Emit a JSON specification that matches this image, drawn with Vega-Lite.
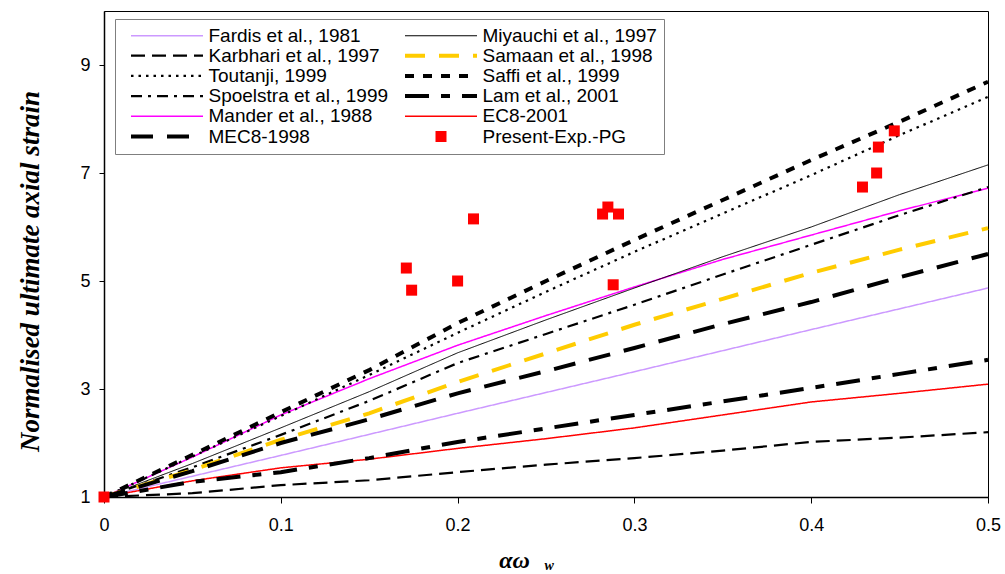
{
  "$schema": "https://vega.github.io/schema/vega-lite/v6.json",
  "width": 884,
  "height": 486,
  "autosize": "none",
  "padding": {"left": 104, "top": 11, "right": 17, "bottom": 77},
  "background": "white",
  "config": {
    "view": {"stroke": "black", "strokeWidth": 1},
    "axis": {
      "grid": false,
      "domainColor": "black",
      "domainWidth": 1.5,
      "tickColor": "black",
      "tickWidth": 1,
      "labelColor": "black",
      "labelFont": "Liberation Sans",
      "labelFontSize": 18,
      "titleFont": "Liberation Serif",
      "titleFontStyle": "italic",
      "titleFontWeight": "bold",
      "titleColor": "black"
    }
  },
  "datasets": {
    "curves": [
      {"series": "Fardis et al., 1981", "x": 0, "y": 1},
      {"series": "Fardis et al., 1981", "x": 0.1, "y": 1.77},
      {"series": "Fardis et al., 1981", "x": 0.2, "y": 2.55},
      {"series": "Fardis et al., 1981", "x": 0.3, "y": 3.32},
      {"series": "Fardis et al., 1981", "x": 0.4, "y": 4.1},
      {"series": "Fardis et al., 1981", "x": 0.5, "y": 4.87},

      {"series": "Miyauchi et al., 1997", "x": 0, "y": 1},
      {"series": "Miyauchi et al., 1997", "x": 0.05, "y": 1.62},
      {"series": "Miyauchi et al., 1997", "x": 0.1, "y": 2.28},
      {"series": "Miyauchi et al., 1997", "x": 0.15, "y": 2.95},
      {"series": "Miyauchi et al., 1997", "x": 0.2, "y": 3.67},
      {"series": "Miyauchi et al., 1997", "x": 0.25, "y": 4.28},
      {"series": "Miyauchi et al., 1997", "x": 0.3, "y": 4.87},
      {"series": "Miyauchi et al., 1997", "x": 0.35, "y": 5.45},
      {"series": "Miyauchi et al., 1997", "x": 0.4, "y": 6.0},
      {"series": "Miyauchi et al., 1997", "x": 0.45, "y": 6.6},
      {"series": "Miyauchi et al., 1997", "x": 0.5, "y": 7.15},

      {"series": "Karbhari et al., 1997", "x": 0, "y": 1},
      {"series": "Karbhari et al., 1997", "x": 0.05, "y": 1.07},
      {"series": "Karbhari et al., 1997", "x": 0.1, "y": 1.22},
      {"series": "Karbhari et al., 1997", "x": 0.15, "y": 1.31},
      {"series": "Karbhari et al., 1997", "x": 0.2, "y": 1.46},
      {"series": "Karbhari et al., 1997", "x": 0.25, "y": 1.6},
      {"series": "Karbhari et al., 1997", "x": 0.3, "y": 1.72},
      {"series": "Karbhari et al., 1997", "x": 0.35, "y": 1.86},
      {"series": "Karbhari et al., 1997", "x": 0.4, "y": 2.02},
      {"series": "Karbhari et al., 1997", "x": 0.45, "y": 2.1},
      {"series": "Karbhari et al., 1997", "x": 0.5, "y": 2.2},

      {"series": "Samaan et al., 1998", "x": 0, "y": 1},
      {"series": "Samaan et al., 1998", "x": 0.05, "y": 1.5},
      {"series": "Samaan et al., 1998", "x": 0.1, "y": 2.06},
      {"series": "Samaan et al., 1998", "x": 0.15, "y": 2.55},
      {"series": "Samaan et al., 1998", "x": 0.2, "y": 3.13},
      {"series": "Samaan et al., 1998", "x": 0.25, "y": 3.66},
      {"series": "Samaan et al., 1998", "x": 0.3, "y": 4.19},
      {"series": "Samaan et al., 1998", "x": 0.35, "y": 4.67},
      {"series": "Samaan et al., 1998", "x": 0.4, "y": 5.15},
      {"series": "Samaan et al., 1998", "x": 0.45, "y": 5.58},
      {"series": "Samaan et al., 1998", "x": 0.5, "y": 5.98},

      {"series": "Toutanji, 1999", "x": 0, "y": 1},
      {"series": "Toutanji, 1999", "x": 0.05, "y": 1.75},
      {"series": "Toutanji, 1999", "x": 0.1, "y": 2.5},
      {"series": "Toutanji, 1999", "x": 0.15, "y": 3.26},
      {"series": "Toutanji, 1999", "x": 0.2, "y": 4.04},
      {"series": "Toutanji, 1999", "x": 0.25, "y": 4.8},
      {"series": "Toutanji, 1999", "x": 0.3, "y": 5.54},
      {"series": "Toutanji, 1999", "x": 0.35, "y": 6.25},
      {"series": "Toutanji, 1999", "x": 0.4, "y": 6.96},
      {"series": "Toutanji, 1999", "x": 0.45, "y": 7.7},
      {"series": "Toutanji, 1999", "x": 0.5, "y": 8.41},

      {"series": "Saffi et al., 1999", "x": 0, "y": 1},
      {"series": "Saffi et al., 1999", "x": 0.05, "y": 1.78},
      {"series": "Saffi et al., 1999", "x": 0.1, "y": 2.57},
      {"series": "Saffi et al., 1999", "x": 0.15, "y": 3.35},
      {"series": "Saffi et al., 1999", "x": 0.2, "y": 4.22},
      {"series": "Saffi et al., 1999", "x": 0.25, "y": 5.0},
      {"series": "Saffi et al., 1999", "x": 0.3, "y": 5.76},
      {"series": "Saffi et al., 1999", "x": 0.35, "y": 6.5},
      {"series": "Saffi et al., 1999", "x": 0.4, "y": 7.24},
      {"series": "Saffi et al., 1999", "x": 0.45, "y": 7.95},
      {"series": "Saffi et al., 1999", "x": 0.5, "y": 8.69},

      {"series": "Spoelstra et al., 1999", "x": 0, "y": 1},
      {"series": "Spoelstra et al., 1999", "x": 0.05, "y": 1.55},
      {"series": "Spoelstra et al., 1999", "x": 0.1, "y": 2.15},
      {"series": "Spoelstra et al., 1999", "x": 0.15, "y": 2.78},
      {"series": "Spoelstra et al., 1999", "x": 0.2, "y": 3.48},
      {"series": "Spoelstra et al., 1999", "x": 0.25, "y": 4.02},
      {"series": "Spoelstra et al., 1999", "x": 0.3, "y": 4.56},
      {"series": "Spoelstra et al., 1999", "x": 0.35, "y": 5.12},
      {"series": "Spoelstra et al., 1999", "x": 0.4, "y": 5.67},
      {"series": "Spoelstra et al., 1999", "x": 0.45, "y": 6.22},
      {"series": "Spoelstra et al., 1999", "x": 0.5, "y": 6.74},

      {"series": "Lam et al., 2001", "x": 0, "y": 1},
      {"series": "Lam et al., 2001", "x": 0.05, "y": 1.28},
      {"series": "Lam et al., 2001", "x": 0.1, "y": 1.46},
      {"series": "Lam et al., 2001", "x": 0.15, "y": 1.72},
      {"series": "Lam et al., 2001", "x": 0.2, "y": 2.02},
      {"series": "Lam et al., 2001", "x": 0.25, "y": 2.27},
      {"series": "Lam et al., 2001", "x": 0.3, "y": 2.52},
      {"series": "Lam et al., 2001", "x": 0.35, "y": 2.77},
      {"series": "Lam et al., 2001", "x": 0.4, "y": 3.02},
      {"series": "Lam et al., 2001", "x": 0.45, "y": 3.28},
      {"series": "Lam et al., 2001", "x": 0.5, "y": 3.54},

      {"series": "Mander et al., 1988", "x": 0, "y": 1},
      {"series": "Mander et al., 1988", "x": 0.05, "y": 1.74},
      {"series": "Mander et al., 1988", "x": 0.1, "y": 2.52},
      {"series": "Mander et al., 1988", "x": 0.15, "y": 3.19},
      {"series": "Mander et al., 1988", "x": 0.2, "y": 3.81},
      {"series": "Mander et al., 1988", "x": 0.25, "y": 4.36},
      {"series": "Mander et al., 1988", "x": 0.3, "y": 4.89},
      {"series": "Mander et al., 1988", "x": 0.35, "y": 5.4},
      {"series": "Mander et al., 1988", "x": 0.4, "y": 5.85},
      {"series": "Mander et al., 1988", "x": 0.45, "y": 6.3},
      {"series": "Mander et al., 1988", "x": 0.5, "y": 6.72},

      {"series": "EC8-2001", "x": 0, "y": 1},
      {"series": "EC8-2001", "x": 0.05, "y": 1.3},
      {"series": "EC8-2001", "x": 0.1, "y": 1.54},
      {"series": "EC8-2001", "x": 0.15, "y": 1.7},
      {"series": "EC8-2001", "x": 0.2, "y": 1.9},
      {"series": "EC8-2001", "x": 0.25, "y": 2.08},
      {"series": "EC8-2001", "x": 0.3, "y": 2.28},
      {"series": "EC8-2001", "x": 0.35, "y": 2.52},
      {"series": "EC8-2001", "x": 0.4, "y": 2.76},
      {"series": "EC8-2001", "x": 0.45, "y": 2.92},
      {"series": "EC8-2001", "x": 0.5, "y": 3.09},

      {"series": "MEC8-1998", "x": 0, "y": 1},
      {"series": "MEC8-1998", "x": 0.05, "y": 1.48},
      {"series": "MEC8-1998", "x": 0.1, "y": 2.0},
      {"series": "MEC8-1998", "x": 0.15, "y": 2.44},
      {"series": "MEC8-1998", "x": 0.2, "y": 2.92},
      {"series": "MEC8-1998", "x": 0.25, "y": 3.33},
      {"series": "MEC8-1998", "x": 0.3, "y": 3.76},
      {"series": "MEC8-1998", "x": 0.35, "y": 4.2},
      {"series": "MEC8-1998", "x": 0.4, "y": 4.61},
      {"series": "MEC8-1998", "x": 0.45, "y": 5.07},
      {"series": "MEC8-1998", "x": 0.5, "y": 5.5}
    ],
    "tests": [
      {"series": "Present-Exp.-PG", "x": 0, "y": 1},
      {"series": "Present-Exp.-PG", "x": 0.171, "y": 5.24},
      {"series": "Present-Exp.-PG", "x": 0.174, "y": 4.83},
      {"series": "Present-Exp.-PG", "x": 0.2, "y": 5.0},
      {"series": "Present-Exp.-PG", "x": 0.209, "y": 6.15},
      {"series": "Present-Exp.-PG", "x": 0.282, "y": 6.24},
      {"series": "Present-Exp.-PG", "x": 0.285, "y": 6.37},
      {"series": "Present-Exp.-PG", "x": 0.291, "y": 6.24},
      {"series": "Present-Exp.-PG", "x": 0.288, "y": 4.93},
      {"series": "Present-Exp.-PG", "x": 0.429, "y": 6.74},
      {"series": "Present-Exp.-PG", "x": 0.437, "y": 7.0},
      {"series": "Present-Exp.-PG", "x": 0.438, "y": 7.48},
      {"series": "Present-Exp.-PG", "x": 0.447, "y": 7.78}
    ],
    "subscript": [{"label": "w", "x": 0.2506, "y": 1}]
  },
  "encoding": {
    "x": {
      "field": "x",
      "type": "quantitative",
      "scale": {"domain": [0, 0.5], "nice": false, "zero": false},
      "axis": {
        "values": [0, 0.1, 0.2, 0.3, 0.4, 0.5],
        "format": "~g",
        "tickSize": 6,
        "labelPadding": 13,
        "labelFlush": false,
        "title": "αω",
        "titleFontSize": 24,
        "titleX": 410,
        "titleY": 63,
        "titleBaseline": "middle",
        "titleAlign": "center"
      }
    },
    "y": {
      "field": "y",
      "type": "quantitative",
      "scale": {"domain": [1, 10], "nice": false, "zero": false},
      "axis": {
        "values": [1, 3, 5, 7, 9],
        "tickSize": 5,
        "labelPadding": 9,
        "labelFlush": false,
        "title": "Normalised ultimate axial strain",
        "titleFontSize": 27,
        "titleAngle": -90,
        "titleX": -74,
        "titleY": 260,
        "titleAlign": "center",
        "titleBaseline": "middle"
      }
    }
  },
  "layer": [
    {
      "data": {"name": "curves"},
      "transform": [{"filter": {"field": "series", "oneOf": ["Fardis et al., 1981", "Mander et al., 1988", "EC8-2001"]}}],
      "mark": {"type": "line", "strokeWidth": 1.5},
      "encoding": {
        "color": {
          "field": "series",
          "type": "nominal",
          "scale": {
            "domain": [
              "Fardis et al., 1981", "Karbhari et al., 1997", "Toutanji, 1999",
              "Spoelstra et al., 1999", "Mander et al., 1988", "MEC8-1998",
              "Miyauchi et al., 1997", "Samaan et al., 1998", "Saffi et al., 1999",
              "Lam et al., 2001", "EC8-2001", "Present-Exp.-PG"
            ],
            "range": [
              "#cc99ff", "#000000", "#000000",
              "#000000", "#ff00ff", "#000000",
              "#000000", "#ffcc00", "#000000",
              "#000000", "#ff0000", "#ff0000"
            ]
          },
          "legend": {
            "title": null,
            "orient": "none",
            "legendX": 11,
            "legendY": 8,
            "columns": 2,
            "columnPadding": 7,
            "rowPadding": 0.2,
            "padding": 7,
            "symbolType": "stroke",
            "symbolSize": 5184,
            "symbolOffset": 35.5,
            "symbolStrokeWidth": 2,
            "labelOffset": 32,
            "labelFont": "Liberation Sans",
            "labelFontSize": 19,
            "labelColor": "black",
            "labelLimit": 400,
            "strokeColor": "#7f7f7f",
            "fillColor": "white",
            "encode": {
              "symbols": {
                "update": {
                  "shape": {"signal": "datum.value === 'Present-Exp.-PG' ? 'square' : 'stroke'"},
                  "size": {"signal": "datum.value === 'Present-Exp.-PG' ? 121 : 5184"},
                  "fill": {"signal": "datum.value === 'Present-Exp.-PG' ? '#ff0000' : 'transparent'"},
                  "stroke": {"scale": "color", "field": "value"},
                  "strokeOpacity": {"signal": "datum.value === 'Present-Exp.-PG' ? 0 : 1"},
                  "strokeWidth": {"signal": "datum.value === 'Miyauchi et al., 1997' ? 1 : indexof(['Samaan et al., 1998', 'Saffi et al., 1999', 'Lam et al., 2001', 'MEC8-1998'], datum.value) >= 0 ? 4 : indexof(['Karbhari et al., 1997', 'Toutanji, 1999', 'Spoelstra et al., 1999'], datum.value) >= 0 ? 2.2 : 1.5"}
                }
              }
            }
          }
        },
        "strokeDash": {
          "field": "series",
          "type": "nominal",
          "scale": {
            "domain": [
              "Fardis et al., 1981", "Karbhari et al., 1997", "Toutanji, 1999",
              "Spoelstra et al., 1999", "Mander et al., 1988", "MEC8-1998",
              "Miyauchi et al., 1997", "Samaan et al., 1998", "Saffi et al., 1999",
              "Lam et al., 2001", "EC8-2001", "Present-Exp.-PG"
            ],
            "range": [
              [1, 0], [14, 7], [2.5, 5],
              [11, 6, 3, 6], [1, 0], [22, 14],
              [1, 0], [20, 14], [9, 9],
              [24, 12, 9, 12], [1, 0], [1, 0]
            ]
          },
          "legend": null
        }
      }
    },
    {
      "data": {"name": "curves"},
      "transform": [{"filter": {"field": "series", "oneOf": ["Miyauchi et al., 1997"]}}],
      "mark": {"type": "line", "strokeWidth": 1},
      "encoding": {
        "color": {"field": "series", "type": "nominal"},
        "strokeDash": {"field": "series", "type": "nominal"}
      }
    },
    {
      "data": {"name": "curves"},
      "transform": [{"filter": {"field": "series", "oneOf": ["Karbhari et al., 1997", "Toutanji, 1999", "Spoelstra et al., 1999"]}}],
      "mark": {"type": "line", "strokeWidth": 2.2},
      "encoding": {
        "color": {"field": "series", "type": "nominal"},
        "strokeDash": {"field": "series", "type": "nominal"}
      }
    },
    {
      "data": {"name": "curves"},
      "transform": [{"filter": {"field": "series", "oneOf": ["Samaan et al., 1998", "Saffi et al., 1999", "Lam et al., 2001", "MEC8-1998"]}}],
      "mark": {"type": "line", "strokeWidth": 4},
      "encoding": {
        "color": {"field": "series", "type": "nominal"},
        "strokeDash": {"field": "series", "type": "nominal"}
      }
    },
    {
      "data": {"name": "tests"},
      "mark": {"type": "square", "size": 121, "filled": true, "opacity": 1},
      "encoding": {
        "color": {"field": "series", "type": "nominal"}
      }
    },
    {
      "data": {"name": "subscript"},
      "mark": {
        "type": "text",
        "font": "Liberation Serif",
        "fontStyle": "italic",
        "fontWeight": "bold",
        "fontSize": 14,
        "fill": "black",
        "baseline": "middle",
        "align": "center",
        "dx": 2,
        "dy": 69
      },
      "encoding": {
        "text": {"field": "label"}
      }
    }
  ]
}
